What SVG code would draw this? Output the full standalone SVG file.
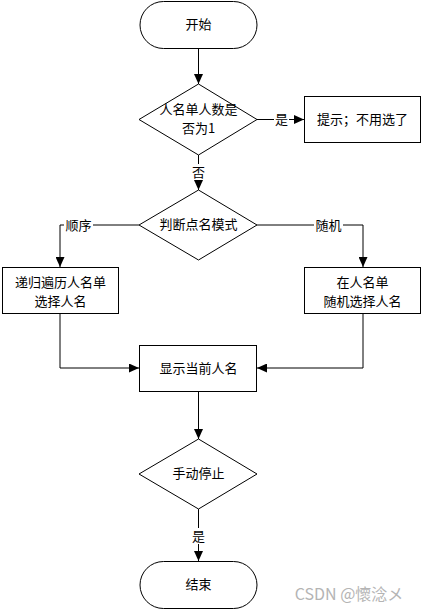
<svg xmlns="http://www.w3.org/2000/svg" width="423" height="610" viewBox="0 0 423 610">
<style>
.s{fill:#fff;stroke:#000;stroke-width:1}
.t{font-family:"Noto Sans CJK SC","Liberation Sans",sans-serif;font-size:13px;fill:#000;text-anchor:middle}
.l{fill:none;stroke:#000;stroke-width:1}
.lb{fill:#fff}
</style>
<defs>
<marker id="a" viewBox="0 0 10 10" refX="10" refY="5" markerWidth="10" markerHeight="9" markerUnits="userSpaceOnUse" orient="auto" preserveAspectRatio="none">
<path d="M0,0L10,5L0,10z" fill="#000"/>
</marker>
</defs>
<rect width="423" height="610" fill="#fff"/>
<g id="connectors">
<path class="l" d="M198.5,49V84" marker-end="url(#a)"/>
<path class="l" d="M257,119.5H304" marker-end="url(#a)"/>
<path class="l" d="M198.5,155V190" marker-end="url(#a)"/>
<path class="l" d="M139,225H60V267" marker-end="url(#a)"/>
<path class="l" d="M257,225H363V267" marker-end="url(#a)"/>
<path class="l" d="M60,314V368H139" marker-end="url(#a)"/>
<path class="l" d="M363,314V368H257" marker-end="url(#a)"/>
<path class="l" d="M198.5,392V439" marker-end="url(#a)"/>
<path class="l" d="M198.5,509V561" marker-end="url(#a)"/>
<rect class="lb" x="274" y="111" width="15" height="16"/>
<text class="t" x="281.5" y="124">是</text>
<rect class="lb" x="191" y="164" width="15" height="16"/>
<text class="t" x="198.5" y="177">否</text>
<rect class="lb" x="64" y="217" width="29" height="16"/>
<text class="t" x="78.5" y="230">顺序</text>
<rect class="lb" x="314" y="217" width="29" height="16"/>
<text class="t" x="328.5" y="230">随机</text>
<rect class="lb" x="191" y="528" width="15" height="16"/>
<text class="t" x="198.5" y="541">是</text>
</g>
<g id="start">
<rect class="s" x="140" y="1.5" width="117" height="47" rx="23.5"/>
<text class="t" x="198.5" y="29">开始</text>
</g>
<g id="check">
<path class="s" d="M198.5,84L257,119.5L198.5,155L139,119.5z"/>
<text class="t" x="198.5" y="114">人名单人数是</text>
<text class="t" x="198.5" y="133">否为1</text>
</g>
<g id="tip">
<rect class="s" x="304.5" y="96.5" width="116" height="46"/>
<text class="t" x="362.5" y="124">提示；不用选了</text>
</g>
<g id="mode">
<path class="s" d="M198.5,190L257,225L198.5,260L139,225z"/>
<text class="t" x="198.5" y="229">判断点名模式</text>
</g>
<g id="seq">
<rect class="s" x="2.5" y="267.5" width="116" height="46"/>
<text class="t" x="60.5" y="287">递归遍历人名单</text>
<text class="t" x="60.5" y="306">选择人名</text>
</g>
<g id="rand">
<rect class="s" x="304.5" y="267.5" width="116" height="46"/>
<text class="t" x="362.5" y="287">在人名单</text>
<text class="t" x="362.5" y="306">随机选择人名</text>
</g>
<g id="show">
<rect class="s" x="139.5" y="345.5" width="117" height="46"/>
<text class="t" x="198.5" y="373">显示当前人名</text>
</g>
<g id="stop">
<path class="s" d="M198.5,439L257,474L198.5,509L139,474z"/>
<text class="t" x="198.5" y="478">手动停止</text>
</g>
<g id="end">
<rect class="s" x="140" y="561.5" width="117" height="47" rx="23.5"/>
<text class="t" x="198.5" y="589">结束</text>
</g>
<text x="349" y="600" font-family="'Noto Sans CJK SC','Noto Sans',sans-serif" font-size="16" fill="#b4b4b4" text-anchor="middle">CSDN @懷淰メ</text>
</svg>
